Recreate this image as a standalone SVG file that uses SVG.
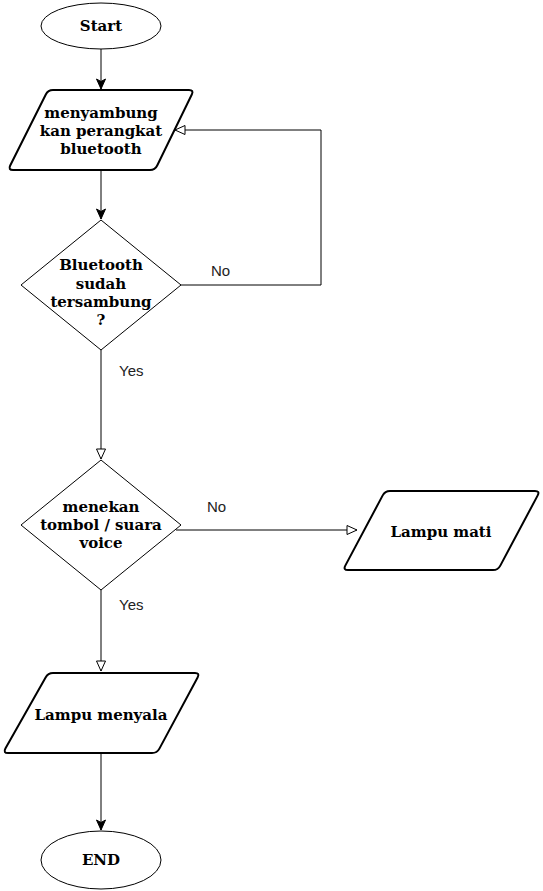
<svg xmlns="http://www.w3.org/2000/svg" width="543" height="891" viewBox="0 0 543 891">
<defs>
<marker id="arrFill" markerUnits="userSpaceOnUse" markerWidth="12" markerHeight="12" viewBox="0 0 12 12" refX="11" refY="6" orient="auto">
<path d="M1,1.5 L11,6 L1,10.5 L3.5,6 Z" fill="#000" stroke="#000" stroke-width="1"/>
</marker>
<marker id="arrOpen" markerUnits="userSpaceOnUse" markerWidth="13" markerHeight="13" viewBox="0 0 13 13" refX="11.5" refY="6.5" orient="auto">
<path d="M1.5,2 L11.5,6.5 L1.5,11 Z" fill="#fff" stroke="#000" stroke-width="1"/>
</marker>
</defs>
<style>
.shape{fill:#fff;stroke:#000;stroke-width:1}
.thick{fill:#fff;stroke:#000;stroke-width:2}
.t{font-family:"DejaVu Serif","Liberation Serif",serif;font-weight:bold;font-size:15px;fill:#000;text-anchor:middle}
.lbl{font-family:"Liberation Sans",Arial,sans-serif;font-size:15px;fill:#222}
.edge{fill:none;stroke:#000;stroke-width:1}
</style>
<rect width="543" height="891" fill="#fff"/>
<g id="connectors">
<path class="edge" d="M101,49 V89" marker-end="url(#arrFill)"/>
<path class="edge" d="M101,171 V219" marker-end="url(#arrFill)"/>
<path class="edge" d="M181,285 H321 V130 H175" marker-end="url(#arrOpen)"/>
<path class="edge" d="M101,350 V459" marker-end="url(#arrOpen)"/>
<path class="edge" d="M176,530 H357" marker-end="url(#arrOpen)"/>
<path class="edge" d="M101,590 V671" marker-end="url(#arrOpen)"/>
<path class="edge" d="M101,754 V830" marker-end="url(#arrFill)"/>
<text class="lbl" x="211" y="276">No</text>
<text class="lbl" x="119" y="376">Yes</text>
<text class="lbl" x="207" y="512">No</text>
<text class="lbl" x="119" y="610">Yes</text>
</g>
<g id="start">
<ellipse class="shape" cx="101" cy="26" rx="60" ry="23"/>
<text class="t" x="101" y="31">Start</text>
</g>
<g id="connect">
<path class="thick" d="M53,90 L189,90 Q194,90 191.8,94.5 L157.2,165.5 Q155,170 150,170 L13,170 Q8,170 10.2,165.5 L45.8,94.5 Q48,90 53,90 Z"/>
<text class="t" x="101" y="118">menyambung</text>
<text class="t" x="101" y="136">kan perangkat</text>
<text class="t" x="101" y="154">bluetooth</text>
</g>
<g id="check-bt">
<path class="shape" d="M101,220 L181,285 L101,350 L21,285 Z"/>
<text class="t" x="101" y="270">Bluetooth</text>
<text class="t" x="101" y="288.5">sudah</text>
<text class="t" x="101" y="307">tersambung</text>
<text class="t" x="101" y="325">?</text>
</g>
<g id="check-press">
<path class="shape" d="M101,460 L181,525 L101,590 L21,525 Z"/>
<text class="t" x="101" y="512">menekan</text>
<text class="t" x="101" y="530">tombol / suara</text>
<text class="t" x="101" y="548">voice</text>
</g>
<g id="lampu-mati">
<path class="thick" d="M390,491 L535,491 Q540,491 537.7,495.4 L500.3,565.6 Q498,570 493,570 L348,570 Q343,570 345.3,565.6 L382.7,495.4 Q385,491 390,491 Z"/>
<text class="t" x="441" y="537">Lampu mati</text>
</g>
<g id="lampu-menyala">
<path class="thick" d="M53,673 L195,673 Q200,673 197.6,677.4 L159.4,748.6 Q157,753 152,753 L8,753 Q3,753 5.4,748.6 L45.6,677.4 Q48,673 53,673 Z"/>
<text class="t" x="101" y="720">Lampu menyala</text>
</g>
<g id="end">
<ellipse class="shape" cx="101" cy="860" rx="60" ry="29"/>
<text class="t" x="101" y="865">END</text>
</g>
</svg>
